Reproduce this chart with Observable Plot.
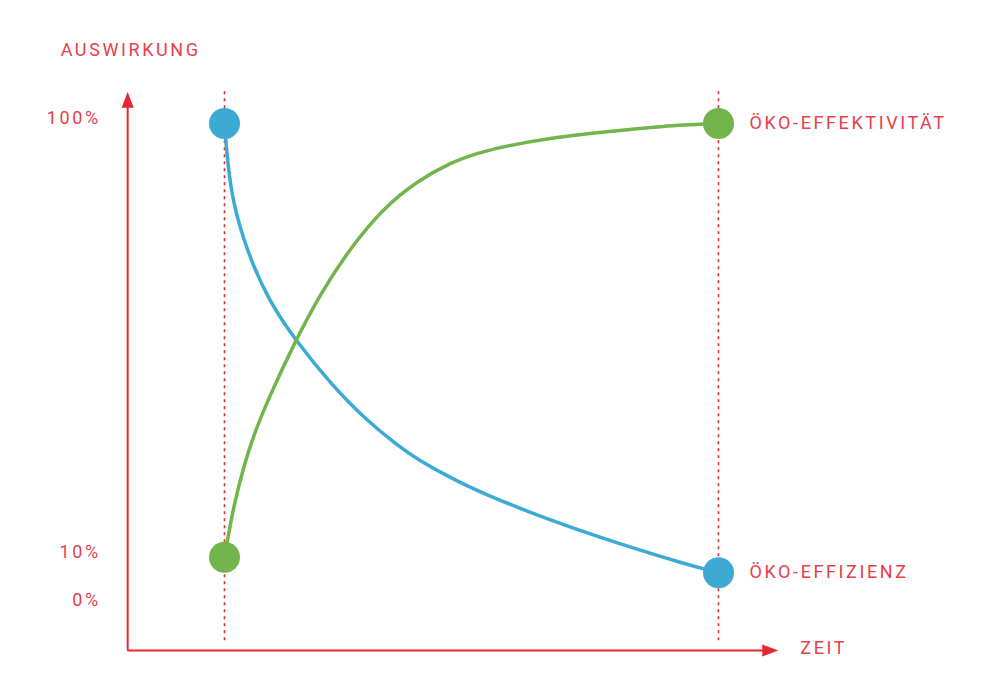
<!DOCTYPE html>
<html>
<head>
<meta charset="utf-8">
<script src="https://cdn.jsdelivr.net/npm/d3@7"></script>
<script src="https://cdn.jsdelivr.net/npm/@observablehq/plot@0.6"></script>
<style>
  html, body { margin: 0; padding: 0; background: #fff; }
  #chart svg { display: block; }
  #chart svg text { letter-spacing: 2.6px; }
</style>
</head>
<body>
<div id="chart"></div>
<script>
// Time (0 = start, 1 = end) and impact (%) for each series
const effektivitaetT = [0, 0.006, 0.018, 0.038, 0.059, 0.087, 0.144, 0.194, 0.255, 0.322, 0.391, 0.457, 0.524, 0.660, 0.796, 0.929, 1];
const effektivitaetV = [10, 13.5, 20.3, 28.6, 35.3, 42.5, 55.0, 64.7, 74.2, 82.5, 88.1, 91.9, 94.4, 97.1, 98.5, 99.8, 100];
const effizienzT = [0, 0.006, 0.016, 0.045, 0.089, 0.144, 0.215, 0.281, 0.350, 0.391, 0.457, 0.524, 0.660, 0.796, 0.929, 1];
const effizienzV = [100, 92.3, 84.0, 73.6, 63.3, 55.0, 46.0, 39.0, 33.2, 30.3, 26.5, 23.2, 17.6, 12.9, 8.7, 6.8];

const seriesNames = ["ÖKO-EFFEKTIVITÄT", "ÖKO-EFFIZIENZ"];
const tickValues = [0, 10, 100];
const tickLabels = ["0%", "10%", "100%"];
const markerTimes = [0, 1];
const axisT = [-0.196, 1.121];   // axis extent in time units
const axisV = [-9.33, 106.6];    // axis extent in % units
const guideV = [-7.3, 106.8];    // dashed guide extent
const xTitle = "ZEIT";
const yTitle = "AUSWIRKUNG";

const RED = "#e52833";
const TEXT_RED = "#e8404b";
const GREEN = "#72b54c";
const BLUE = "#3caad3";

const green = effektivitaetT.map((t, i) => ({t, v: effektivitaetV[i]}));
const blue = effizienzT.map((t, i) => ({t, v: effizienzV[i]}));
const endpoints = [
  {t: effektivitaetT[0], v: effektivitaetV[0], c: GREEN},
  {t: effektivitaetT.at(-1), v: effektivitaetV.at(-1), c: GREEN},
  {t: effizienzT[0], v: effizienzV[0], c: BLUE},
  {t: effizienzT.at(-1), v: effizienzV.at(-1), c: BLUE}
];
const seriesLabels = [
  {t: effektivitaetT.at(-1), v: effektivitaetV.at(-1), text: seriesNames[0]},
  {t: effizienzT.at(-1), v: effizienzV.at(-1), text: seriesNames[1]}
];
const ticks = tickValues.map((v, i) => ({v, text: tickLabels[i]}));

const arrowHead = {
  draw(context) {
    context.moveTo(0, 0);
    context.lineTo(-6, 16);
    context.lineTo(6, 16);
    context.closePath();
  }
};

const font = {fontFamily: "Roboto, 'Open Sans', sans-serif", fontWeight: 400};

const chart = Plot.plot({
  width: 1000,
  height: 685,
  x: {domain: [0, 1], range: [224, 718], axis: null},
  y: {domain: [0, 100], range: [605, 123], axis: null},
  style: {background: "#fff"},
  marks: [
    // dashed guides
    Plot.ruleX(markerTimes, {x: d => d, y1: guideV[0], y2: guideV[1], stroke: RED, strokeWidth: 1.6, strokeDasharray: "3,4"}),
    // axes
    Plot.ruleY([axisV[0]], {y: d => d, x1: axisT[0], x2: axisT[1] - 0.02, stroke: RED, strokeWidth: 2}),
    Plot.ruleX([axisT[0]], {x: d => d, y1: axisV[0], y2: axisV[1] - 2, stroke: RED, strokeWidth: 2}),
    Plot.dot([{t: axisT[0], v: axisV[1]}], {x: "t", y: "v", symbol: arrowHead, fill: RED, stroke: "none", r: 5}),
    Plot.dot([{t: axisT[1], v: axisV[0]}], {x: "t", y: "v", symbol: arrowHead, fill: RED, stroke: "none", r: 5, rotate: 90}),
    // curves
    Plot.line(blue, {x: "t", y: "v", stroke: BLUE, strokeWidth: 3.5, curve: "basis"}),
    Plot.line(green, {x: "t", y: "v", stroke: GREEN, strokeWidth: 3.5, curve: "basis"}),
    // endpoints
    Plot.dot(endpoints, {x: "t", y: "v", r: 15.5, fill: "c", stroke: "none"}),
    // labels
    Plot.text(seriesLabels, {x: "t", y: "v", text: "text", textAnchor: "start", dx: 31, dy: 0, fill: TEXT_RED, fontSize: 18, ...font}),
    Plot.text(ticks, {x: axisT[0], y: "v", text: "text", textAnchor: "end", dx: -27, dy: -5, fill: TEXT_RED, fontSize: 18, ...font}),
    Plot.text([xTitle], {x: axisT[1], y: axisV[0], text: d => d, textAnchor: "start", dx: 22, dy: -2, fill: TEXT_RED, fontSize: 18, ...font}),
    Plot.text([yTitle], {x: axisT[0], y: axisV[1], text: d => d, textAnchor: "start", dx: -67, dy: -41, fill: TEXT_RED, fontSize: 18, ...font})
  ]
});
document.getElementById("chart").appendChild(chart);
</script>
</body>
</html>
